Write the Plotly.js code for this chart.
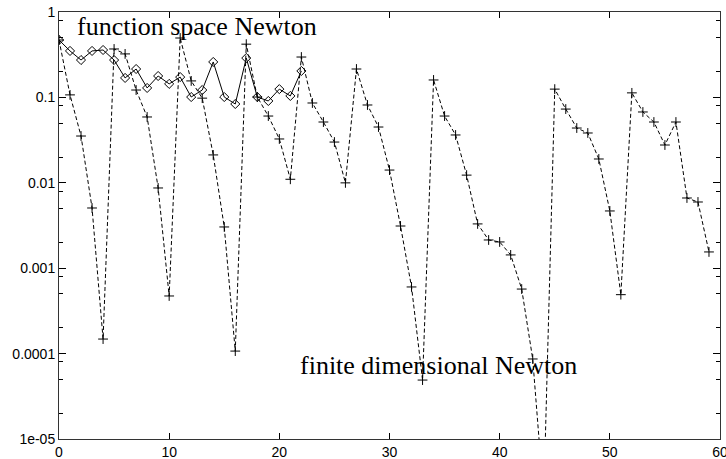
<!DOCTYPE html>
<html>
<head>
<meta charset="utf-8">
<script src="https://cdn.plot.ly/plotly-3.0.1.min.js"></script>
<style>html,body{margin:0;padding:0;background:#fff;}#chart{width:726px;height:459px;}</style>
</head>
<body>
<div id="chart"></div>
<script>
// Iteration numbers
const fdIter = [0,1,2,3,4,5,6,7,8,9,10,11,12,13,14,15,16,17,18,19,20,21,22,23,24,25,26,27,28,29,
                30,31,32,33,34,35,36,37,38,39,40,41,42,43,44,45,46,47,48,49,50,51,52,53,54,55,56,57,58,59];
// finite dimensional Newton (dashed, +)
const fdValues = [0.47, 0.107, 0.0353, 0.00507, 0.000148, 0.369, 0.323, 0.122, 0.059, 0.0087,
                  0.000473, 0.496, 0.156, 0.098, 0.0212, 0.00304, 0.000107, 0.42, 0.101, 0.0605,
                  0.0326, 0.011, 0.297, 0.086, 0.0515, 0.030, 0.00998, 0.215, 0.0815, 0.045,
                  0.0141, 0.00312, 0.000603, 0.000049, 0.16, 0.0605, 0.0363, 0.0123, 0.0033, 0.00214,
                  0.00203, 0.00143, 0.00057, 0.0000865, 0.000002, 0.125, 0.073, 0.0438, 0.0383, 0.019,
                  0.00468, 0.00049, 0.113, 0.0675, 0.0515, 0.0277, 0.0515, 0.00664, 0.00596, 0.00155];
// function space Newton (solid, diamonds)
const fsIter = [0,1,2,3,4,5,6,7,8,9,10,11,12,13,14,15,16,17,18,19,20,21,22];
const fsValues = [0.47, 0.35, 0.274, 0.35, 0.359, 0.274, 0.169, 0.215, 0.129, 0.178, 0.144, 0.173,
                  0.101, 0.122, 0.26, 0.101, 0.0837, 0.289, 0.101, 0.0908, 0.125, 0.104, 0.204];
// axis ticks
const xTickVals = [0, 10, 20, 30, 40, 50, 60];
const yTickVals = [1, 0.1, 0.01, 0.001, 0.0001, 0.00001];
const yTickText = ["1", "0.1", "0.01", "0.001", "0.0001", "1e-05"];
const yMinorVals = [0.8, 0.5, 0.2, 0.08, 0.05, 0.02, 0.008, 0.005, 0.002, 0.0008, 0.0005, 0.0002,
                    0.00008, 0.00005, 0.00002];
const labelFS = "function space Newton";
const labelFD = "finite dimensional Newton";

const traces = [
  {x: fdIter, y: fdValues, mode: 'lines+markers', type: 'scatter',
   line: {color: '#000', width: 1, dash: '4px,2.5px'},
   marker: {symbol: 'cross-thin-open', size: 7, color: '#000', line: {color: '#000', width: 1}}},
  {x: fsIter, y: fsValues, mode: 'lines+markers', type: 'scatter',
   line: {color: '#000', width: 1},
   marker: {symbol: 'diamond-open', size: 7, color: '#000', line: {color: '#000', width: 1}}}
];

const tickFont = {family: 'Liberation Sans, Arial, sans-serif', size: 14, color: '#000'};
const layout = {
  width: 726, height: 459,
  margin: {l: 59, r: 6, t: 12, b: 20, pad: 0},
  paper_bgcolor: '#fff', plot_bgcolor: '#fff',
  showlegend: false,
  xaxis: {
    range: [0, 60], tickmode: 'array', tickvals: xTickVals,
    ticks: 'inside', ticklen: 6, tickwidth: 1, tickcolor: '#000',
    showline: true, linecolor: '#333', linewidth: 1, mirror: 'allticks',
    showgrid: false, zeroline: false, tickfont: tickFont, ticklabeloverflow: 'allow'
  },
  yaxis: {
    type: 'log', range: [-5, 0], tickmode: 'array', tickvals: yTickVals, ticktext: yTickText,
    ticks: 'inside', ticklen: 7, tickwidth: 1, tickcolor: '#000',
    showline: true, linecolor: '#333', linewidth: 1, mirror: 'allticks',
    showgrid: false, zeroline: false, tickfont: tickFont, ticklabeloverflow: 'allow',
    minor: {tickmode: 'array', tickvals: yMinorVals, ticks: 'inside', ticklen: 4, tickcolor: '#000', tickwidth: 1, showgrid: false}
  },
  annotations: [
    {text: labelFS, xref: 'paper', yref: 'paper', x: 0.0242, y: 0.967, xanchor: 'left', yanchor: 'middle',
     showarrow: false, font: {family: 'Liberation Serif, DejaVu Serif, serif', size: 26, color: '#000'}},
    {text: labelFD, xref: 'paper', yref: 'paper', x: 0.3616, y: 0.171, xanchor: 'left', yanchor: 'middle',
     showarrow: false, font: {family: 'Liberation Serif, DejaVu Serif, serif', size: 26, color: '#000'}}
  ]
};
Plotly.newPlot('chart', traces, layout, {displayModeBar: false, staticPlot: true});
</script>
</body>
</html>
